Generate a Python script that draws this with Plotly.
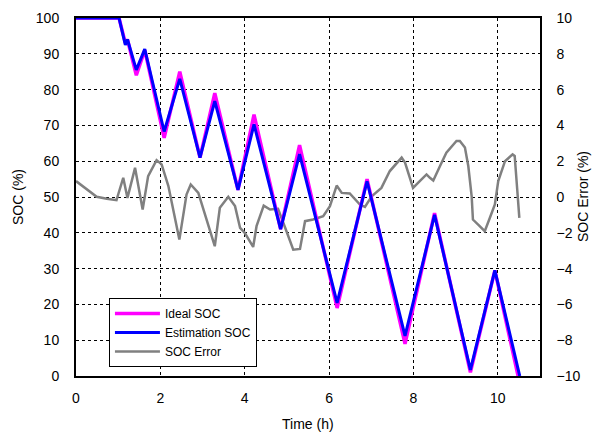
import plotly.graph_objects as go

# SOC curves (vertices)
t_ideal = [0, 0.5, 1.02, 1.17, 1.22, 1.43, 1.63, 2.09, 2.46, 2.94, 3.29, 3.84, 4.22, 4.85, 5.30,
           6.19, 6.90, 7.80, 8.50, 9.35, 9.93, 10.48]
soc_ideal = [100, 100, 100, 93, 94, 84, 91, 66.5, 85, 61, 79, 52, 73, 41, 64.5,
             19, 55, 9, 45.5, 1, 29.5, 0]

t_est = [0, 0.5, 1.02, 1.17, 1.22, 1.43, 1.63, 2.09, 2.46, 2.94, 3.29, 3.84, 4.22, 4.85, 5.30,
         6.19, 6.90, 7.80, 8.50, 9.35, 9.93, 10.52]
soc_est = [100, 100, 100, 92.5, 94, 85.5, 91.3, 68.3, 83, 61, 76.8, 52, 70.3, 41, 62,
           20.4, 54.4, 11.2, 45, 1.7, 29.5, 0]

# SOC error curve
t_err = [0, 0.21, 0.49, 0.73, 0.96, 1.0, 1.12, 1.22, 1.40, 1.58, 1.71, 1.91, 2.03, 2.19, 2.45,
         2.62, 2.72, 2.90, 3.02, 3.29, 3.41, 3.61, 3.77, 3.89, 4.00, 4.20, 4.28, 4.45, 4.60,
         4.79, 4.99, 5.15, 5.31, 5.43, 5.62, 5.86, 6.02, 6.18, 6.30, 6.49, 6.73, 6.85, 7.01,
         7.24, 7.44, 7.72, 7.80, 7.99, 8.15, 8.31, 8.39, 8.47, 8.63, 8.78, 9.02, 9.10, 9.22,
         9.30, 9.38, 9.41, 9.57, 9.69, 9.81, 9.93, 10.01, 10.17, 10.35, 10.40, 10.46, 10.51]
err = [0.89, 0.52, 0.01, -0.1, -0.18, 0.14, 1.07, -0.05, 1.63, -0.7, 1.17, 2.06, 1.82, 0.61, -2.38,
       0.14, 0.7, 0.23, -0.7, -2.75, -0.6, 0.01, -0.51, -1.73, -2.0, -2.79, -1.63, -0.48, -0.7,
       -0.66, -1.91, -2.94, -2.9, -1.35, -1.26, -1.07, -0.51, 0.64, 0.23, 0.2, -0.42, -0.55, 0.04,
       0.51, 1.45, 2.2, 1.92, 0.51, 0.89, 1.26, 1.07, 0.92, 1.73, 2.48, 3.13, 3.13, 2.76,
       1.73, 0.04, -1.26, -1.63, -1.91, -1.17, -0.42, 0.89, 2.0, 2.38, 2.29, 0.42, -1.17]

x_ticks = [0, 2, 4, 6, 8, 10]
soc_ticks = list(range(0, 101, 10))
err_ticks = list(range(-10, 11, 2))

font = "Liberation Sans, Arial, sans-serif"

fig = go.Figure()
fig.add_trace(go.Scatter(x=t_err, y=err, mode="lines", name="SOC Error",
                         line=dict(color="#808080", width=2.5), yaxis="y", legendrank=3))
fig.add_trace(go.Scatter(x=t_ideal, y=soc_ideal, mode="lines", name="Ideal SOC",
                         line=dict(color="#ff00ff", width=3.5), yaxis="y2", legendrank=1))
fig.add_trace(go.Scatter(x=t_est, y=soc_est, mode="lines", name="Estimation SOC",
                         line=dict(color="#0000ff", width=3), yaxis="y2", legendrank=2))

fig.update_layout(
    width=594, height=435,
    margin=dict(l=76, r=54, t=18, b=59),
    paper_bgcolor="white", plot_bgcolor="white",
    font=dict(family=font, size=14, color="black"),
    xaxis=dict(range=[0, 11], tickvals=x_ticks, showgrid=True, gridcolor="black",
               griddash="dot", gridwidth=1, zeroline=False, automargin=False,
               showline=True, linecolor="black", linewidth=2, mirror=True,
               ticks="", ticklabelstandoff=8),
    yaxis=dict(range=[-10, 10], tickvals=err_ticks, side="right", showgrid=False,
               zeroline=False, showline=True, linecolor="black", linewidth=1.5,
               ticks="", ticklabelstandoff=12, automargin=False),
    yaxis2=dict(range=[0, 100], tickvals=soc_ticks, side="left", overlaying="y",
                showgrid=True, gridcolor="black", griddash="dot", gridwidth=1,
                zeroline=False, showline=True, linecolor="black", linewidth=2,
                ticks="", ticklabelstandoff=12, automargin=False),
    legend=dict(x=0.071, y=0.218, xanchor="left", yanchor="top",
                bgcolor="white", bordercolor="black", borderwidth=1,
                font=dict(size=12), traceorder="normal", tracegroupgap=0,
                itemwidth=45),
    showlegend=True,
    annotations=[
        dict(text="Time (h)", xref="paper", yref="paper", x=0.5, y=-0.135,
             xanchor="center", yanchor="middle", showarrow=False, font=dict(size=14)),
        dict(text="SOC (%)", xref="paper", yref="paper", x=-0.125, y=0.5,
             xanchor="center", yanchor="middle", textangle=-90, showarrow=False,
             font=dict(size=14)),
        dict(text="SOC Error (%)", xref="paper", yref="paper", x=1.0927, y=0.5,
             xanchor="center", yanchor="middle", textangle=-90, showarrow=False,
             font=dict(size=14)),
    ],
)

fig.write_html("out.html", config={"displayModeBar": False},
               post_script="document.body.style.margin='0';document.body.style.overflow='hidden';")
